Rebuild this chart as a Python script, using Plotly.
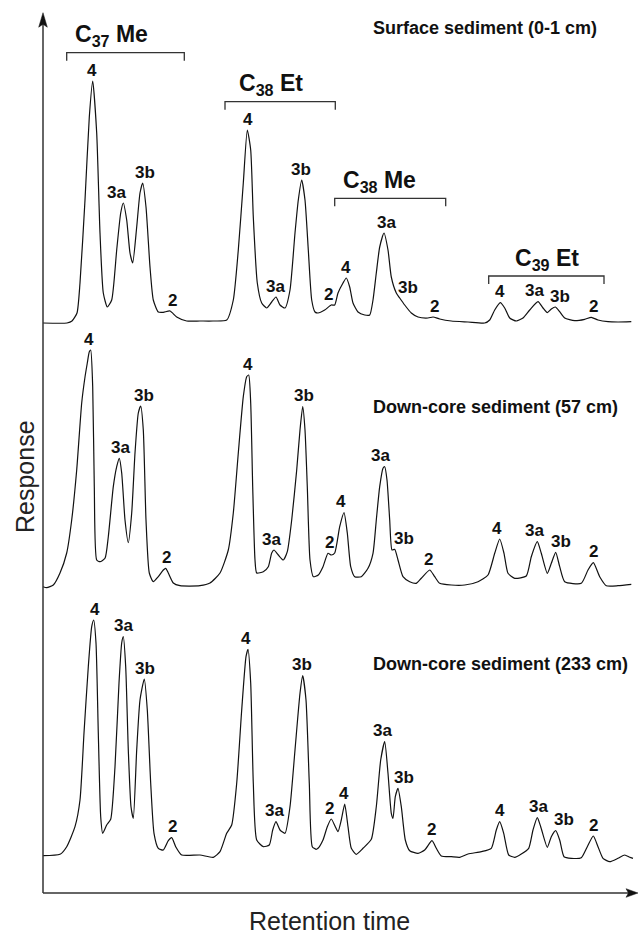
import plotly.graph_objects as go

# ---------------- data (retention time units, response units) ----------------
surf_rt = [0, 24, 29, 34, 37, 42, 46.3, 49.7, 53.7, 57, 60.3, 64.3, 68.7, 73.7, 77.7, 80.3, 83.7, 87, 89.7,
           93.7, 97, 99.7, 103, 107, 110.3, 115.3, 120.3, 127, 133.7, 143.7, 157, 170, 183.7, 190.3, 195.3,
           200.3, 204.3, 207.7, 210.3, 214.3, 218.7, 223.7, 228.7, 233, 237, 242, 247, 252, 255.3, 258.7,
           262, 265.3, 268.7, 272, 275, 281.7, 288.3, 291.7, 295, 300, 303.3, 306.7, 310, 315, 321.7, 326.7,
           330, 333.3, 336.7, 341, 345, 348.3, 353.3, 356.7, 361.7, 368.3, 375, 385, 390, 396.7, 408.3, 425,
           441.7, 446.7, 451.7, 457.3, 461.7, 466.7, 473.3, 480, 486.7, 495, 500, 504.3, 508.3, 512.3, 516.7,
           521.7, 531.7, 541.7, 548.3, 555, 565, 575, 588.3]
surf_resp = [570, 570, 572, 580, 610, 693, 776, 812, 760, 660, 600, 586, 593, 643, 680, 690, 673, 640, 630,
             666, 700, 710, 686, 626, 593, 581, 580.7, 582, 576, 572, 572, 572, 573, 593, 643,
             710, 763, 743, 676, 610, 590, 585, 591, 596, 588, 585, 603, 660, 693, 713,
             693, 643, 593, 581, 580, 583, 588, 588, 600, 610, 615, 606, 590, 581, 578, 578,
             593, 620, 646, 660, 643, 616, 600, 595, 588, 580, 576, 575, 576, 574, 572, 571,
             570, 573, 583, 590.3, 585, 575, 572, 575, 583, 591.3, 585, 580.3, 584, 586, 581.3,
             575, 572.3, 573.7, 575.7, 573, 571.3, 571, 571.3]

mid_rt = [0, 3.7, 10.3, 17, 23.7, 28.7, 33.7, 38.7, 42, 44.3, 46.3, 47.7, 49.7, 51.3, 53.7, 57, 62, 65.3,
          70.3, 73.7, 76.3, 78.7, 82, 85.3, 88.7, 92, 95.3, 97.7, 100.3, 103, 106.3, 110.3, 115.3, 120.3,
          122.7, 125.3, 130.3, 137, 157, 167, 177, 185.3, 190.3, 195.3, 200.3, 203.7, 205.7, 207.7, 209.7,
          212, 213.7, 220.3, 225.3, 228.7, 231, 235.3, 240.3, 244.3, 248.7, 253.7, 257, 259.7, 262, 264.3,
          267, 270.3, 275.3, 280, 285, 288.3, 291.7, 296.7, 301, 304.3, 307.7, 311.7, 318.3, 325, 330,
          333.3, 336.7, 340, 341.7, 344, 346.7, 349, 351.7, 355, 360, 366.7, 373.3, 378.3, 386.7, 391.7,
          396.7, 408.3, 421.7, 435, 445, 451.7, 456.7, 461, 465, 471.7, 483.3, 488.3, 494.3, 498.3, 504.3,
          508.3, 512.7, 516.7, 521.7, 538.3, 545, 550.3, 556.7, 563.3, 575, 588.3]
mid_resp = [306.3, 305.3, 308, 320, 340, 373, 423, 490, 516, 530, 541.3, 543, 506.3, 406.3, 333, 331.3, 334.7, 356.3,
            406.3, 426.3, 434.7, 420, 373, 350.3, 380, 440, 480, 487, 463, 373, 320, 311.3, 316.3, 323,
            324.7, 320, 310, 307.3, 307.3, 310, 320, 343, 380, 440, 496.3, 516.3, 518, 490, 406.3,
            333, 320, 321.3, 326.3, 340, 343, 338, 333, 341.3, 373, 423, 463, 486.3, 463, 406.3,
            333, 316.3, 318, 326.3, 339.7, 338, 340, 366.3, 380.3, 360, 326.3, 316.3, 316.3, 324.7, 339.7,
            373, 406.3, 424.7, 426.3, 413, 373, 343, 343.7, 333, 316.3, 311.3, 309.7, 314.7, 323, 316.3,
            309.7, 308, 308, 311.3, 318, 339.7, 354, 339.7, 319.7, 314.7, 317, 336.3, 351.3, 339.7, 319.7,
            329.7, 340.7, 326.3, 311.3, 309.7, 323, 330.3, 316.3, 307.3, 307.3, 308.7]

deep_rt = [0, 17, 23.7, 32, 37, 41, 45.3, 48.7, 50.7, 53, 55.3, 57.7, 59.7, 63.7, 67.7, 72, 76, 78.7, 80.3,
           82.7, 85.3, 88, 90.3, 93.7, 97, 101.3, 104.3, 107.7, 111, 115.3, 120.3, 125.3, 128.7, 132.7,
           138.7, 157, 170.3, 177, 183.7, 188.7, 193.7, 198.7, 203, 205, 207.7, 210.3, 213.7, 220.3, 226.3,
           229.7, 233, 237, 242, 247, 252, 257, 259.7, 263, 266.3, 269.3, 273, 275, 280, 284.3, 288.3,
           292.3, 295, 298.3, 301.7, 305, 308.3, 313.3, 320, 328.3, 333.3, 337.7, 341.7, 345, 348.3, 350,
           352.3, 355, 358.3, 362.3, 366.7, 375, 381.7, 389, 393.3, 398.3, 408.3, 416.7, 425, 438.3, 448.3,
           453.3, 456.7, 460.7, 465.7, 471.7, 478.3, 485.7, 490, 494.3, 497.7, 504.3, 508.3, 512.7, 516.7,
           521, 528.3, 538.3, 544.3, 550.3, 555, 560, 566.7, 575, 581.7, 586.7, 590]
deep_resp = [37.3, 38.7, 46.3, 66.3, 93, 160, 226.3, 266.3, 273, 250, 160, 76.3, 59.7, 68, 73.7, 126.3, 210, 250, 256.3,
             226.3, 143, 86.3, 74.7, 143, 193, 214, 183, 109.7, 59.7, 44.7, 43, 52.3, 55.3, 46.3,
             38, 38, 35.7, 41.3, 59.7, 68, 109.7, 183, 236.3, 243.7, 210, 109.7, 53, 46.3, 48,
             63, 71.3, 63, 59.7, 86.3, 143, 199.7, 217.3, 193, 109.7, 46.3, 43.7, 44.7, 53, 66.3, 74,
             66.3, 61.3, 73, 89, 66.3, 44.7, 38.7, 44.7, 53.7, 86.3, 133, 151.3, 119.7, 79.7, 74.7,
             96.3, 104.7, 86.3, 53, 42.3, 39.7, 43, 52.3, 44.7, 37, 36.3, 35.7, 39, 41.3, 44.7,
             63, 71.3, 59.7, 38, 35.7, 39, 44.7, 63, 75.3, 66.3, 45.7, 56.3, 62.3, 53,
             36.3, 34.7, 35.3, 46.3, 57, 46.3, 34.7, 31.3, 34.7, 38, 35.7, 34.7]

peak_names = ["4", "3a", "3b", "2"] * 4

surf_label_rt = [48.7, 73.7, 102, 129.3, 204.7, 232, 258, 285, 303.3, 343.3, 365, 391.7, 457.3, 491, 516.7, 550]
surf_label_resp = [812, 690, 710, 582, 763, 596, 713, 588, 615, 660, 595, 576, 590.3, 591.3, 586, 575.7]
mid_label_rt = [46.3, 77.7, 101, 123.7, 204.7, 228.7, 261, 286.7, 298.3, 337.7, 361, 385.7, 454.3, 491.7, 517.7, 550.3]
mid_label_resp = [543, 434.7, 487, 324.7, 518, 343, 486.3, 339.7, 380.3, 426.3, 343.7, 323, 354, 351.3, 340.7, 330.3]
deep_label_rt = [52, 80.3, 102, 129.3, 202.7, 231.3, 258.7, 286, 301, 339, 360.7, 388.3, 456.7, 495, 520.7, 550.3]
deep_label_resp = [273, 256.3, 214, 55.3, 243.7, 71.3, 217.3, 74, 89, 151.3, 104.7, 52.3, 71.3, 75.3, 62.3, 57]

group_names = ["C<sub>37</sub> Me", "C<sub>38</sub> Et", "C<sub>38</sub> Me", "C<sub>39</sub> Et"]
group_start = [23.7, 182, 291.7, 445.7]
group_end = [141.3, 292.3, 402.7, 561]
group_level = [840.3, 791.3, 694.7, 617]
group_text_rt = [68, 228, 336, 503.5]

sample_names = ["Surface sediment (0-1 cm)", "Down-core sediment (57 cm)", "Down-core sediment (233 cm)"]
sample_text_rt = [328, 328, 328]
sample_text_resp = [865, 485.7, 228.7]

X_MAX = 595
Y_MAX = 880.3

# ---------------- figure ----------------
FONT = "Arial, 'Liberation Sans', Helvetica, sans-serif"
INK = "#111111"
AX = "#333333"

fig = go.Figure()
for xs, ys in [(surf_rt, surf_resp), (mid_rt, mid_resp), (deep_rt, deep_resp)]:
    fig.add_trace(go.Scatter(x=xs, y=ys, mode="lines",
                             line=dict(color=INK, width=1.2, shape="spline", smoothing=0.55),
                             hoverinfo="skip", showlegend=False))

annotations = []
for lx, ly in [(surf_label_rt, surf_label_resp), (mid_label_rt, mid_label_resp), (deep_label_rt, deep_label_resp)]:
    for name, x, y in zip(peak_names, lx, ly):
        annotations.append(dict(x=x, y=y, xref="x", yref="y", text="<b>%s</b>" % name, showarrow=False,
                                xanchor="center", yanchor="middle", yshift=11,
                                font=dict(family=FONT, size=17, color=INK)))

shapes = []
for name, x0, x1, lvl, tx in zip(group_names, group_start, group_end, group_level, group_text_rt):
    shapes.append(dict(type="path", xref="x", yref="y",
                       path="M %s,%s L %s,%s L %s,%s L %s,%s" % (x0, lvl - 8, x0, lvl, x1, lvl, x1, lvl - 8),
                       line=dict(color=AX, width=1.3)))
    annotations.append(dict(x=tx, y=lvl, xref="x", yref="y", text="<b>%s</b>" % name, showarrow=False,
                            xanchor="center", yanchor="middle", yshift=17,
                            font=dict(family=FONT, size=23, color=INK)))

for name, x, y in zip(sample_names, sample_text_rt, sample_text_resp):
    annotations.append(dict(x=x, y=y, xref="x", yref="y", text="<b>%s</b>" % name, showarrow=False,
                            xanchor="left", yanchor="middle",
                            font=dict(family=FONT, size=18, color=INK)))

# axes with arrow heads
shapes.append(dict(type="line", xref="x", yref="y", x0=0, y0=0, x1=0, y1=Y_MAX - 10,
                   line=dict(color=AX, width=1.5)))
shapes.append(dict(type="line", xref="x", yref="y", x0=0, y0=0, x1=X_MAX - 8, y1=0,
                   line=dict(color=AX, width=1.5)))
shapes.append(dict(type="path", xref="x", yref="y",
                   path="M 0,%s L -4.3,%s L 0,%s L 4.3,%s Z" % (Y_MAX, Y_MAX - 14.5, Y_MAX - 11.5, Y_MAX - 14.5),
                   fillcolor=INK, line=dict(color=INK, width=0.5)))
shapes.append(dict(type="path", xref="x", yref="y",
                   path="M %s,0 L %s,4.3 L %s,0 L %s,-4.3 Z" % (X_MAX, X_MAX - 12, X_MAX - 9.5, X_MAX - 12),
                   fillcolor=INK, line=dict(color=INK, width=0.5)))

annotations.append(dict(x=-0.0082, y=0.4726, xref="paper", yref="paper", text="Response", textangle=-90,
                        showarrow=False, xanchor="center", yanchor="middle",
                        font=dict(family=FONT, size=25, color="#222222")))
annotations.append(dict(x=0.4918, y=-0.0235, xref="paper", yref="paper", text="Retention time",
                        showarrow=False, xanchor="center", yanchor="middle",
                        font=dict(family=FONT, size=25, color="#222222")))

fig.update_layout(
    width=638, height=934,
    margin=dict(l=30, r=0, t=5, b=34),
    paper_bgcolor="white", plot_bgcolor="white",
    xaxis=dict(range=[-13, X_MAX], visible=False, fixedrange=True),
    yaxis=dict(range=[-7, 888], visible=False, fixedrange=True),
    shapes=shapes, annotations=annotations, showlegend=False,
)

fig.write_html("out.html", config={"displayModeBar": False},
               post_script="document.body.style.margin='0px';")
